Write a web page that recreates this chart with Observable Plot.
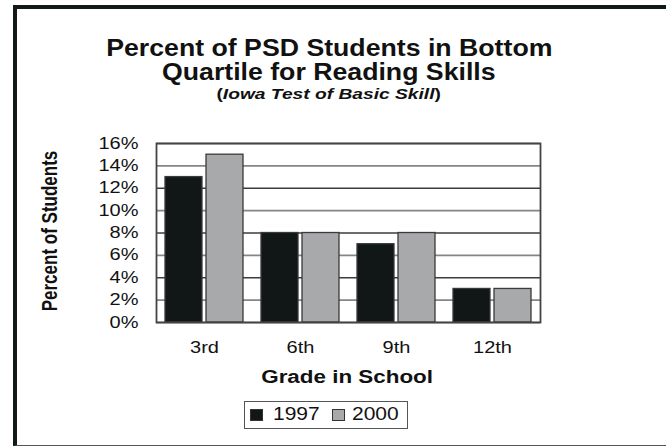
<!DOCTYPE html>
<html>
<head>
<meta charset="utf-8">
<script src="https://cdn.jsdelivr.net/npm/d3@7"></script>
<script src="https://cdn.jsdelivr.net/npm/@observablehq/plot@0.6"></script>
<style>
  html, body { margin: 0; padding: 0; background: #fff; }
  #c { position: relative; width: 666px; height: 447px; overflow: hidden; background: #fff;
       font-family: "Liberation Sans", Arial, Helvetica, sans-serif; color: #111; }
  #page { position: absolute; left: 13px; top: 5px; width: 720px; height: 441px; box-sizing: border-box;
          border-left: 4px solid #121a18; border-top: 4px solid #121a18; border-bottom: 1.5px solid #555; }
  #chart { position: absolute; left: 0; top: 0; }
  .line { position: absolute; left: 0; width: 658px; text-align: center; white-space: nowrap; }
  .line span { display: inline-block; }
  #t1 { top: 36.5px; font-size: 23px; line-height: 23px; font-weight: bold; }
  #t2 { top: 60.5px; font-size: 23px; line-height: 23px; font-weight: bold; }
  #t1 span, #t2 span { transform: scaleX(1.16); }
  #sub { top: 86.3px; font-size: 15px; line-height: 15px; font-weight: bold; }
  #sub span { transform: scaleX(1.28); }
  #xl { position: absolute; left: 0; width: 694px; top: 369.2px; text-align: center; font-size: 17.5px;
        line-height: 17.5px; font-weight: bold; white-space: nowrap; }
  #xl span { display: inline-block; transform: scaleX(1.28); }
  #yl { position: absolute; left: 50px; top: 231px; width: 0; height: 0; }
  #yl span { position: absolute; left: 0; top: 0; white-space: nowrap; font-size: 17px; line-height: 17px;
             font-weight: bold; transform: translate(-50%, -50%) rotate(-90deg) scaleY(1.3); }
  #legend { position: absolute; left: 244px; top: 401px; width: 164px; height: 28px; box-sizing: border-box;
            border: 1px solid #555; display: flex; align-items: center; padding-left: 5px; }
  .sw { width: 13px; height: 12px; box-sizing: border-box; border: 1px solid #333; flex: none; }
  .lt { display: inline-block; font-size: 17.5px; line-height: 17.5px; transform: scaleX(1.2); transform-origin: left center; }
</style>
</head>
<body>
<div id="c">
  <div id="page"></div>
  <div id="chart"></div>
  <div class="line" id="t1"><span>Percent of PSD Students in Bottom</span></div>
  <div class="line" id="t2"><span>Quartile for Reading Skills</span></div>
  <div class="line" id="sub"><span>(<i>Iowa Test of Basic Skill</i>)</span></div>
  <div id="yl"><span>Percent of Students</span></div>
  <div id="xl"><span>Grade in School</span></div>
  <div id="legend"></div>
</div>
<script>
// ---- data ----
const grades = ["3rd", "6th", "9th", "12th"];
const years = ["1997", "2000"];
const values1997 = [13, 8, 7, 3];
const values2000 = [15, 8, 8, 3];
const yTicks = [0, 2, 4, 6, 8, 10, 12, 14, 16];
const yearColors = ["#111716", "#a8a9ab"];

const table = [];
grades.forEach((g, i) => {
  table.push({grade: g, year: years[0], value: values1997[i]});
  table.push({grade: g, year: years[1], value: values2000[i]});
});

const svg = Plot.plot({
  width: 666,
  height: 395,
  marginLeft: 156,
  marginRight: 126,
  marginTop: 143,
  marginBottom: 73,
  style: {fontFamily: "'Liberation Sans', Arial, sans-serif", fontSize: "16px", color: "#111", background: "transparent"},
  fx: {domain: grades, padding: 0, label: null, axis: "bottom", tickSize: 0, tickPadding: 19},
  x: {domain: years, paddingInner: 0.0976, paddingOuter: 0.2195, axis: null},
  y: {domain: [0, 16], ticks: yTicks, tickFormat: d => d + "%", tickSize: 0, tickPadding: 18, label: null},
  color: {domain: years, range: yearColors},
  marks: [
    Plot.ruleY(yTicks, {y: d => d, stroke: d => d % 4 === 0 ? "#3c3c3c" : "#858585", strokeWidth: 1.6}),
    Plot.barY(table, {fx: "grade", x: "year", y: "value", fill: "year", stroke: "#3a3a3a", strokeWidth: 1.3}),
    Plot.frame({stroke: "#444", strokeWidth: 1.8, facet: "super"})
  ]
});

// widen axis tick labels to match the reference's horizontally stretched type
const sx = 1.25;
svg.querySelectorAll('g[aria-label*="axis"] text').forEach(t => {
  const tr = t.getAttribute("transform") || "";
  const x = +(t.getAttribute("x") || 0);
  t.setAttribute("transform", `${tr} translate(${x},0) scale(${sx},1) translate(${-x},0)`);
});
document.getElementById("chart").appendChild(svg);

// legend
const legend = document.getElementById("legend");
years.forEach((y, i) => {
  const sw = document.createElement("div");
  sw.className = "sw";
  sw.style.background = yearColors[i];
  sw.style.marginRight = i === 0 ? "10px" : "7px";
  legend.appendChild(sw);
  const t = document.createElement("span");
  t.className = "lt";
  t.textContent = y;
  t.style.marginRight = i === 0 ? "20px" : "0";
  legend.appendChild(t);
});
</script>
</body>
</html>
